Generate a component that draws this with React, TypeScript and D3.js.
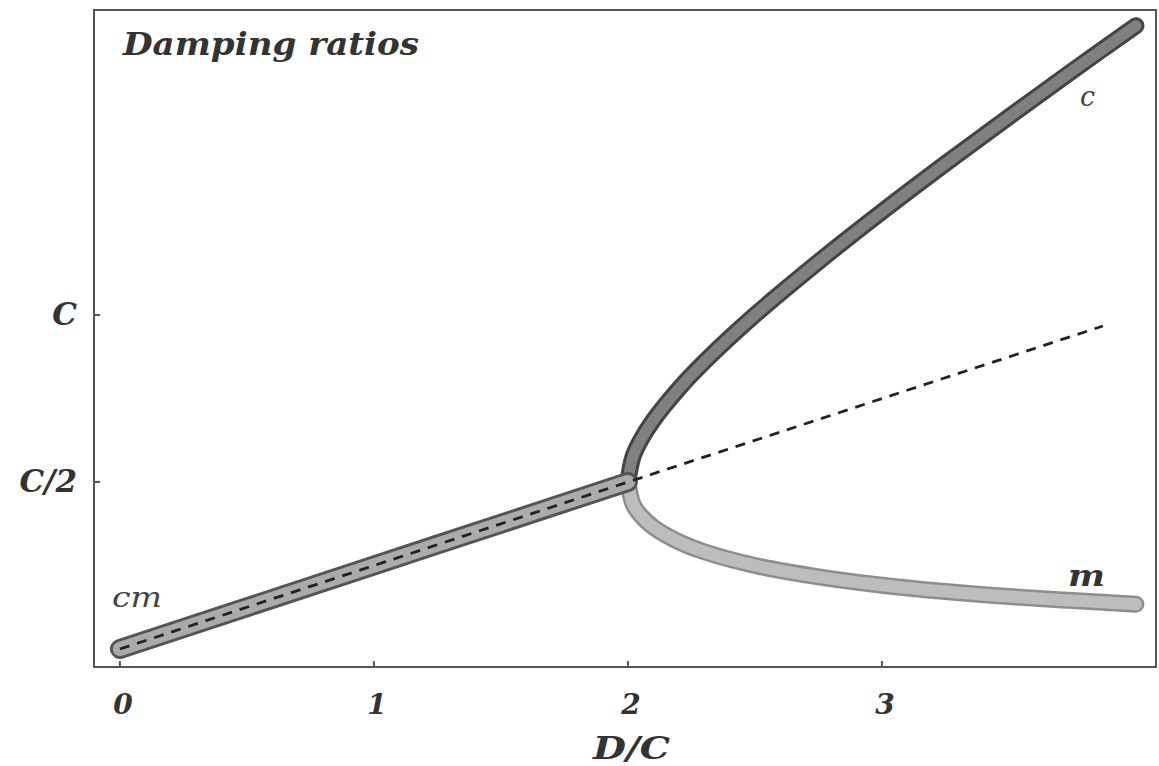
import React from "react";
import * as d3 from "d3";

// ---- data ----
const sharedX = [0, 0.5, 1, 1.5, 2];
const sharedY = [0, 0.125, 0.25, 0.375, 0.5];

const branchX = [2, 2.02, 2.05, 2.1, 2.2, 2.3, 2.5, 2.75, 3, 3.25, 3.5, 3.75, 4.0];
const cY = [0.5, 0.576, 0.625, 0.685, 0.779, 0.859, 1.0, 1.159, 1.309, 1.453, 1.593, 1.731, 1.866];
const mY = [0.5, 0.434, 0.4, 0.365, 0.321, 0.291, 0.25, 0.216, 0.191, 0.172, 0.157, 0.145, 0.134];

const dashX = [0, 3.87];
const dashY = [0, 0.967];

const xTicks = [0, 1, 2, 3];
const xTickLabels = ["0", "1", "2", "3"];
const yTicks = [0.5, 1];
const yTickLabels = ["C/2", "C"];

const W = 1159;
const H = 766;
const left = 94, right = 1156, top = 10, bottom = 667;

export default function App() {
  const x = d3.scaleLinear().domain([-0.102, 4.079]).range([left, right]);
  const y = d3.scaleLinear().domain([-0.0539, 1.913]).range([bottom, top]);

  const line = d3
    .line<[number, number]>()
    .x((d) => x(d[0]))
    .y((d) => y(d[1]))
    .curve(d3.curveCatmullRom.alpha(0.5));

  const shared = line(sharedX.map((v, i) => [v, sharedY[i]]) as [number, number][]) || "";
  const cPath = line(branchX.map((v, i) => [v, cY[i]]) as [number, number][]) || "";
  const mPath = line(branchX.map((v, i) => [v, mY[i]]) as [number, number][]) || "";
  const dPath = d3
    .line<[number, number]>()
    .x((d) => x(d[0]))
    .y((d) => y(d[1]))(dashX.map((v, i) => [v, dashY[i]]) as [number, number][]) || "";

  const font = "'DejaVu Serif', 'Liberation Serif', serif";

  return (
    <svg
      width={W}
      height={H}
      style={{ position: "absolute", left: 0, top: 0, background: "#fff" }}
    >
      {/* m branch */}
      <path d={mPath} fill="none" stroke="#8e8e8e" strokeWidth={17} strokeLinecap="round" />
      <path d={mPath} fill="none" stroke="#bdbdbd" strokeWidth={12} strokeLinecap="round" />
      {/* c branch */}
      <path d={cPath} fill="none" stroke="#444" strokeWidth={17} strokeLinecap="round" />
      <path d={cPath} fill="none" stroke="#808080" strokeWidth={11} strokeLinecap="round" />
      {/* shared cm */}
      <path d={shared} fill="none" stroke="#555" strokeWidth={20} strokeLinecap="round" />
      <path d={shared} fill="none" stroke="#ababab" strokeWidth={14} strokeLinecap="round" />
      {/* dashed */}
      <path d={dPath} fill="none" stroke="#222" strokeWidth={2.8} strokeDasharray="10 8" />

      {/* frame */}
      <rect
        x={left}
        y={top}
        width={right - left}
        height={bottom - top}
        fill="none"
        stroke="#555"
        strokeWidth={2}
      />
      {/* ticks */}
      {xTicks.map((t) => (
        <line key={"xt" + t} x1={x(t)} x2={x(t)} y1={bottom} y2={bottom - 6} stroke="#555" strokeWidth={2} />
      ))}
      {yTicks.map((t) => (
        <line key={"yt" + t} x1={left} x2={left + 6} y1={y(t)} y2={y(t)} stroke="#555" strokeWidth={2} />
      ))}
      {xTicks.map((t, i) => (
        <text
          key={"xl" + t}
          x={x(t) + 3}
          y={714}
          textAnchor="middle"
          fontFamily={font}
          fontStyle="italic"
          fontWeight="bold"
          fontSize={28}
          fill="#333"
        >
          {xTickLabels[i]}
        </text>
      ))}
      {yTicks.map((t, i) => (
        <text
          key={"yl" + t}
          x={77}
          y={y(t) + 10}
          textAnchor="end"
          fontFamily={font}
          fontStyle="italic"
          fontWeight="bold"
          fontSize={31}
          fill="#333"
        >
          {yTickLabels[i]}
        </text>
      ))}
      <text
        x={593}
        y={759}
        fontFamily={font}
        fontStyle="italic"
        fontWeight="bold"
        fontSize={31}
        fill="#333"
        textLength={77}
        lengthAdjust="spacingAndGlyphs"
      >
        D/C
      </text>
      <text
        x={123}
        y={55}
        fontFamily={font}
        fontStyle="italic"
        fontWeight="bold"
        fontSize={31}
        fill="#333"
        textLength={296}
        lengthAdjust="spacingAndGlyphs"
      >
        Damping ratios
      </text>
      <text
        x={112}
        y={607}
        fontFamily={font}
        fontStyle="italic"
        fontSize={28}
        fill="#444"
        textLength={50}
        lengthAdjust="spacingAndGlyphs"
      >
        cm
      </text>
      <text x={1080} y={106} fontFamily={font} fontStyle="italic" fontSize={27} fill="#444">
        c
      </text>
      <text
        x={1068}
        y={586}
        fontFamily={font}
        fontStyle="italic"
        fontWeight="bold"
        fontSize={30}
        fill="#333"
        textLength={37}
        lengthAdjust="spacingAndGlyphs"
      >
        m
      </text>
    </svg>
  );
}
